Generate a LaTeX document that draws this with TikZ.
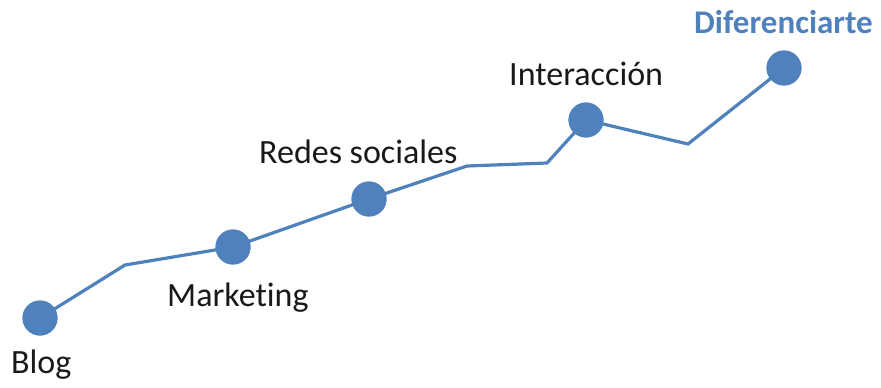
\documentclass[tikz,border=0pt]{standalone}
\usepackage{fontspec}
\setmainfont[Ligatures=NoCommon]{Carlito}
\definecolor{obl}{HTML}{4F81BD}
\begin{document}
\begin{tikzpicture}[x=1pt,y=-1pt,
  dot/.style={circle,fill=obl,minimum size=35pt,inner sep=0pt},
  lbl/.style={anchor=base west,inner sep=0pt,font=\fontsize{34}{40}\selectfont,text=black!90},
  ln/.style={draw=obl,line width=3.2pt,line join=miter}]
\useasboundingbox (0,0) rectangle (881,388);
\coordinate (k1) at (125,265);
\coordinate (k2) at (467,166);
\coordinate (k3) at (547,163);
\coordinate (k4) at (688,144);
\node[dot] (blog) at (40,318) {};
\node[dot] (mkt) at (233,247) {};
\node[dot] (red) at (369,199) {};
\node[dot] (int) at (586,120) {};
\node[dot] (dif) at (784,68) {};
\draw[ln] (blog.center) -- (k1) -- (mkt.center) -- (red.center) -- (k2) -- (k3) -- (int.center) -- (k4) -- (dif.center);
\node[dot] at (blog) {};
\node[dot] at (mkt) {};
\node[dot] at (red) {};
\node[dot] at (int) {};
\node[dot] at (dif) {};
\node[lbl] (tblog) at (11,373) {Blog};
\node[lbl] (tmkt) at (167,306) {Marketing};
\node[lbl] (tred) at (259,163) {Redes sociales};
\node[lbl] (tint) at (509,85) {Interacción};
\node[lbl,text=obl,font=\fontsize{33}{38}\selectfont\bfseries] (tdif) at (694,33) {Diferenciarte};
\end{tikzpicture}
\end{document}
